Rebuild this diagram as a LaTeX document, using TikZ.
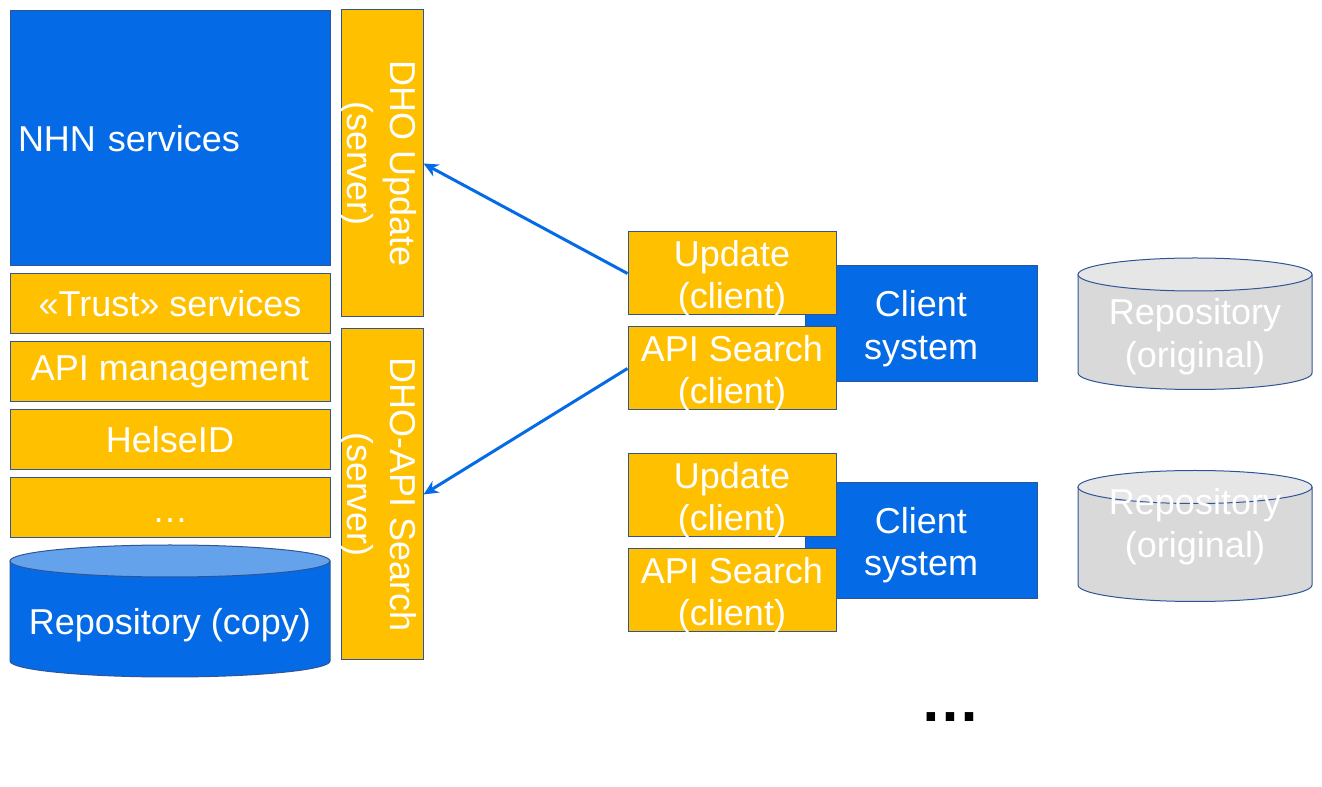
\documentclass[tikz,border=0pt]{standalone}
\usepackage{fontspec}
\setmainfont{Liberation Sans}
\usetikzlibrary{arrows.meta}
\definecolor{nhnblue}{HTML}{056AE6}
\definecolor{dhoyellow}{HTML}{FFC000}
\definecolor{edgeblue}{HTML}{2F5597}
\definecolor{lightblue}{HTML}{64A2EC}
\definecolor{repogray}{HTML}{D9D9D9}
\definecolor{repotop}{HTML}{E7E6E6}
\begin{document}
\begin{tikzpicture}[x=0.75pt, y=-0.75pt, >={Stealth[length=11pt,width=10pt]},
  every node/.style={font=\fontsize{27}{32}\selectfont, text=white, inner sep=0pt},
  bluebox/.style={draw=edgeblue, line width=0.75pt, fill=nhnblue},
  yellowbox/.style={draw=edgeblue, line width=0.75pt, fill=dhoyellow},
  stackbox/.style={yellowbox, minimum width=240pt, minimum height=45pt},
  clientbox/.style={yellowbox, minimum width=156pt, minimum height=62.25pt},
  link/.style={->, draw=nhnblue, line width=2.25pt}]

\useasboundingbox (0,0) rectangle (1322,787);

\node[bluebox, minimum height=191.25pt, text width=228pt, inner xsep=6pt, align=left] (nhn) at (170,138.5) {NHN services};

\foreach \y/\n/\t in {304/trust/{«Trust» services}, 372/apim/{API management}, 440/helse/HelseID}
{
   \node[stackbox] (\n) at (170,\y) {\t};
}
\node[stackbox] (more) at (170,507.5) {\strut\raisebox{-5pt}{…}};

\fill[nhnblue] (10,561) -- (10,661) arc[start angle=180, end angle=0, x radius=160, y radius=16] -- (330,561) -- cycle;
\draw[edgeblue, line width=0.75pt] (10,561) -- (10,661) arc[start angle=180, end angle=0, x radius=160, y radius=16] -- (330,561);
\filldraw[fill=lightblue, draw=edgeblue, line width=0.75pt] (170,561) ellipse [x radius=160, y radius=16];
\node (repocopy) at (170,625) {Repository (copy)};

\node[yellowbox, minimum width=61.5pt, minimum height=230.25pt] (dhoupd) at (382,163.5) {};
\node[rotate=-90, align=center] (dhoupdtext) at ([xshift=-3pt]dhoupd.center) {DHO Update\\(server)};
\node[yellowbox, minimum width=61.5pt, minimum height=248.25pt] (dhoapi) at (382,494.5) {};
\node[rotate=-90, align=center] (dhoapitext) at ([xshift=-3pt]dhoapi.center) {DHO-API Search\\(server)};

\foreach \i/\u/\s/\c in {1/273.5/368.5/324, 2/495.5/590.5/540.5}
{
   \node[bluebox, minimum width=174pt, minimum height=87pt] (cli\i) at (921,\c) {};
   \node[align=center] (clitext\i) at ([yshift=-3.4pt]cli\i.center) {Client\\system};
   \node[clientbox] (upd\i) at (732,\u) {};
   \node[align=center] (updtext\i) at ([yshift=-3.4pt]upd\i.center) {Update\\(client)};
   \node[clientbox] (srch\i) at (732,\s) {};
   \node[align=center] (srchtext\i) at ([yshift=-3.4pt]srch\i.center) {API Search\\(client)};
}

\foreach \i/\t/\b/\m in {1/274.5/373/337, 2/487/585/527}
{
   \fill[repogray] (1078,\t) -- (1078,\b) arc[start angle=180, end angle=0, x radius=117, y radius=16.5] -- (1312,\t) -- cycle;
   \draw[edgeblue, line width=0.75pt] (1078,\t) -- (1078,\b) arc[start angle=180, end angle=0, x radius=117, y radius=16.5] -- (1312,\t);
   \filldraw[fill=repotop, draw=edgeblue, line width=0.75pt] (1195,\t) ellipse [x radius=117, y radius=16.5];
   \node[align=center] (repo\i) at (1195,\m) {Repository\\(original)};
}

\draw[link] (upd1.west) -- (dhoupd.east);
\draw[link] (srch1.west) -- (dhoapi.east);

\node[text=black, font=\fontsize{45}{50}\selectfont\bfseries] (etc) at (950,717) {…};

\end{tikzpicture}
\end{document}
